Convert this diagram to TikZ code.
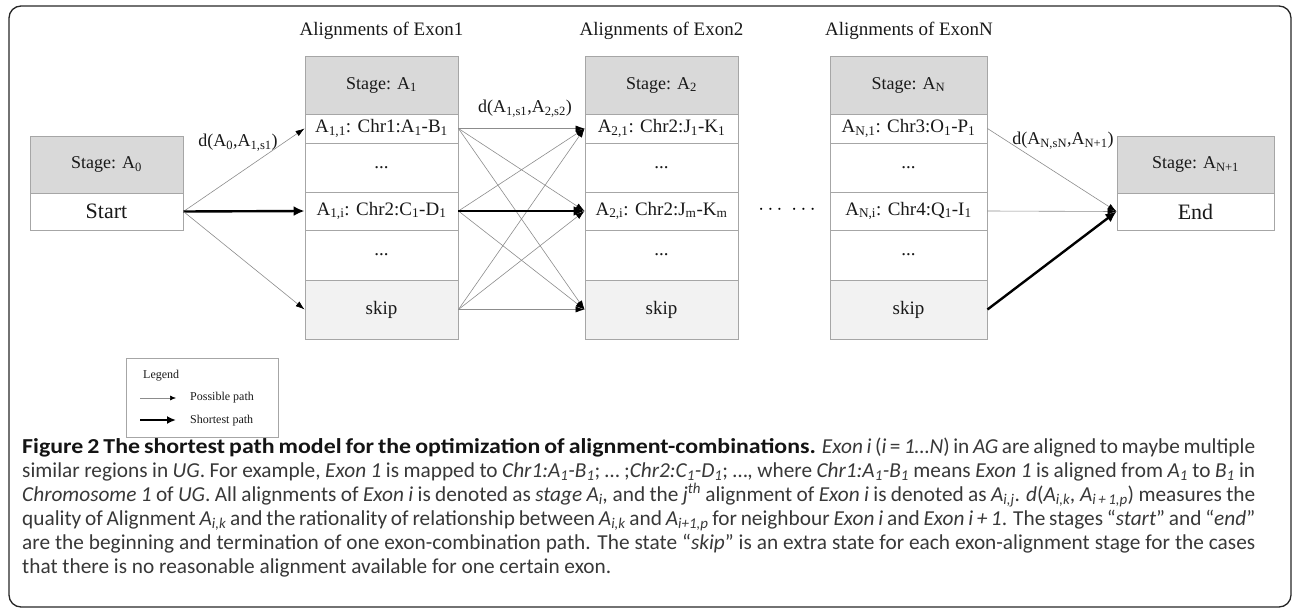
\documentclass[tikz,border=0pt]{standalone}
\usepackage{fontspec}
\setmainfont{Liberation Serif}
\newfontfamily\capfont[BoldFeatures={FakeStretch=1.12}]{Carlito}
\usetikzlibrary{arrows.meta}
\newcommand{\fsz}[1]{\fontsize{#1}{#1}\selectfont}
\definecolor{hdr}{HTML}{D9D9D9}
\definecolor{skp}{HTML}{F2F2F2}
\definecolor{bord}{HTML}{A6A6A6}
\definecolor{thin}{HTML}{8C8C8C}
\definecolor{captxt}{HTML}{383838}
\newcommand{\sub}[1]{\textsubscript{#1}}
\newcommand{\capline}[1]{\makebox[1233pt][s]{#1}}
% one stage column: prefix, centre x, width, stage, row 1, row i
\newcommand{\stagecol}[6]{%
  \node[hdrcell, minimum width=#3, minimum height=58pt] (#1h) at (#2,85) {Stage: #4};
  \node[cell, minimum width=#3, minimum height=29pt] (#1r1) at (#2,128.5) {#5};
  \node[cell, minimum width=#3, minimum height=49pt] (#1d1) at (#2,167.5) {...};
  \node[cell, minimum width=#3, minimum height=38pt] (#1ri) at (#2,211) {#6};
  \node[cell, minimum width=#3, minimum height=50pt] (#1d2) at (#2,255) {...};
  \node[skipcell, minimum width=#3, minimum height=59pt] (#1s) at (#2,309.5) {skip};
}
\begin{document}
\begin{tikzpicture}[x=1pt,y=-1pt,
  cell/.style={draw=bord, line width=0.9pt, inner sep=0pt, font=\fsz{19}, text=black!90},
  hdrcell/.style={cell, fill=hdr, font=\fsz{18}},
  skipcell/.style={cell, fill=skp},
  possible/.style={draw=thin, line width=0.6pt, -{Latex[length=9pt,width=6pt,color=black]}},
  shortest/.style={draw=black, line width=2.4pt, -{Latex[length=11pt,width=10pt]}},
  lab/.style={font=\fsz{18}, inner sep=1pt, text=black!90},
  coltitle/.style={font=\fsz{19}, inner sep=1pt, text=black!90},
  legtext/.style={font=\fsz{12}, anchor=west, inner sep=0pt, text=black!90},
  captext/.style={anchor=base west, inner sep=0pt, text=captxt, font=\capfont\fsz{21.3}},
]
\useasboundingbox (0,0) rectangle (1293,615);
\draw[rounded corners=12pt, line width=1.3pt, black!85] (9,6) rectangle (1291,607);

% column titles
\node[coltitle] (t1) at (381.5,31) {Alignments of Exon1};
\node[coltitle] (t2) at (661.5,31) {Alignments of Exon2};
\node[coltitle] (tN) at (909,31) {Alignments of ExonN};

% start / end stages
\node[hdrcell, minimum width=153pt, minimum height=57pt] (s0h) at (106.5,164.5) {Stage: A\sub{0}};
\node[cell, minimum width=153pt, minimum height=37pt, font=\fsz{22}] (s0) at (106.5,211.5) {Start};
\node[hdrcell, minimum width=157pt, minimum height=57pt] (eh) at (1195.5,164.5) {Stage: A\sub{N+1}};
\node[cell, minimum width=157pt, minimum height=37pt, font=\fsz{22}] (e) at (1195.5,211.5) {End};

% stage columns
\stagecol{c1}{381.5}{153pt}{A\sub{1}}{A\sub{1,1}: Chr1:A\sub{1}-B\sub{1}}{A\sub{1,i}: Chr2:C\sub{1}-D\sub{1}}
\stagecol{c2}{661.5}{153pt}{A\sub{2}}{A\sub{2,1}: Chr2:J\sub{1}-K\sub{1}}{A\sub{2,i}: Chr2:J\sub{m}-K\sub{m}}
\stagecol{cN}{908.5}{157pt}{A\sub{N}}{A\sub{N,1}: Chr3:O\sub{1}-P\sub{1}}{A\sub{N,i}: Chr4:Q\sub{1}-I\sub{1}}

% ellipsis between stages
\node[inner sep=0pt, font=\fsz{20}] (dots) at (787,210) {$\cdots$\hspace{9pt}$\cdots$};

% connectors
\draw[possible] (s0.east) -- (c1r1.west);
\draw[shortest] (s0.east) -- (c1ri.west);
\draw[possible] (s0.east) -- (c1s.west);
\foreach \a/\b in {r1/r1, r1/ri, r1/s, ri/r1, ri/s, s/r1, s/ri, s/s}
  {\draw[possible] (c1\a.east) -- (c2\b.west);}
\draw[shortest] (c1ri.east) -- (c2ri.west);
\draw[possible] (cNr1.east) -- (e.west);
\draw[possible] (cNri.east) -- (e.west);
\draw[shortest] (cNs.east) -- (e.west);

% connector labels
\node[lab] (l01) at (238,143) {d(A\sub{0},A\sub{1,s1})};
\node[lab] (l12) at (525,109) {d(A\sub{1,s1},A\sub{2,s2})};
\node[lab] (lN) at (1063,141) {d(A\sub{N,sN},A\sub{N+1})};

% legend
\node[draw=bord, line width=0.8pt, minimum width=152pt, minimum height=79pt, inner sep=0pt] (leg) at (202,397.5) {};
\node[legtext] (legt) at (143,376) {Legend};
\coordinate (p1) at (140,398); \coordinate (p2) at (176,398);
\draw[draw=thin, line width=0.6pt, -{Latex[length=6pt,width=5pt,color=black]}] (p1) -- (p2);
\node[legtext] (lp) at (190,398) {Possible path};
\coordinate (q1) at (140,420); \coordinate (q2) at (176,420);
\draw[draw=black, line width=2.2pt, -{Latex[length=9pt,width=8pt]}] (q1) -- (q2);
\node[legtext] (lq) at (190,421) {Shortest path};

% caption, one node per printed line
\node[captext] (cap1) at (22,453) {\capline{{\color{black!92}\bfseries Figure 2 The shortest path model for the optimization of alignment-combinations.} \textit{Exon i} (\textit{i}\,=\,\textit{1…N}) in \textit{AG} are aligned to maybe multiple}};
\node[captext] (cap2) at (22,477) {\capline{similar regions in \textit{UG}. For example, \textit{Exon 1} is mapped to \textit{Chr1:A\sub{1}-B\sub{1}}; … ;\textit{Chr2:C\sub{1}-D\sub{1}}; …, where \textit{Chr1:A\sub{1}-B\sub{1}} means \textit{Exon 1} is aligned from \textit{A\sub{1}} to \textit{B\sub{1}} in}};
\node[captext] (cap3) at (22,501) {\capline{\textit{Chromosome 1} of \textit{UG}. All alignments of \textit{Exon i} is denoted as \textit{stage A\sub{i},} and the \textit{j\textsuperscript{th}} alignment of \textit{Exon i} is denoted as \textit{A\sub{i,j}}. \textit{d}(\textit{A\sub{i,k}, A\sub{i\,+\,1,p}}) measures the}};
\node[captext] (cap4) at (22,525) {\capline{quality of Alignment \textit{A\sub{i,k}} and the rationality of relationship between \textit{A\sub{i,k}} and \textit{A\sub{i+1,p}} for neighbour \textit{Exon i} and \textit{Exon i\,+\,1}. The stages “\textit{start}” and “\textit{end}”}};
\node[captext] (cap5) at (22,549) {\capline{are the beginning and termination of one exon-combination path. The state “\textit{skip}” is an extra state for each exon-alignment stage for the cases}};
\node[captext] (cap6) at (22,573) {that there is no reasonable alignment available for one certain exon.};
\end{tikzpicture}
\end{document}
